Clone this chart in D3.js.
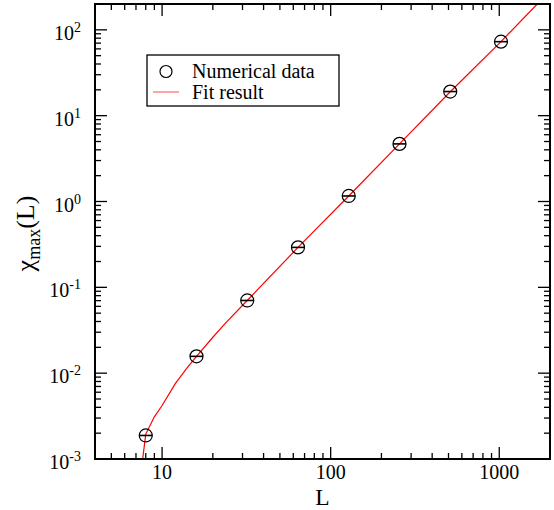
<!DOCTYPE html>
<html><head><meta charset="utf-8">
<script src="https://cdn.jsdelivr.net/npm/d3@7"></script>
<style>body{margin:0;background:#fff}svg{display:block}text{font-family:"Liberation Serif","Times New Roman",serif;fill:#000}</style>
</head><body>
<script>
// Data
const dataL = [8, 16, 32, 64, 128, 256, 512, 1024];
const dataChi = [0.00188, 0.0157, 0.0703, 0.292, 1.16, 4.69, 19.1, 72.8];
const fitL = [7.67, 8, 9, 10, 12, 14, 16, 20, 24, 32, 64, 128, 256, 512, 1024, 1680];
const fitChi = [0.001, 0.00195, 0.0031, 0.0042, 0.0076, 0.0114, 0.0157, 0.0262, 0.039, 0.0703, 0.292, 1.16, 4.7, 19.0, 73.0, 200];
const xMajor = [10, 100, 1000];
const xTickLabels = ["10", "100", "1000"];
const yExponents = [-3, -2, -1, 0, 1, 2];
const legendLabels = ["Numerical data", "Fit result"];

const W = 554, H = 510;
const L = 95, R = 550, T = 4, B = 459;
const svg = d3.select("body").append("svg").attr("width", W).attr("height", H);
const x = d3.scaleLog().domain([4, 2000]).range([L, R]);
const y = d3.scaleLog().domain([1e-3, 200]).range([B, T]);

// minor ticks
const xMinor = [];
[1, 10, 100, 1000].forEach(d => { for (let k = 2; k <= 9; k++) { const v = d * k; if (v > 4 && v < 2000 && v !== 10 && v !== 100 && v !== 1000) xMinor.push(v); } });
const yMajorVals = yExponents.map(e => Math.pow(10, e));
const yMinor = [];
yExponents.forEach(e => { for (let k = 2; k <= 9; k++) { const v = k * Math.pow(10, e); if (v < 200) yMinor.push(v); } });

const g = svg.append("g").attr("stroke", "#000").attr("stroke-width", 1.3);
function tickX(v, len) {
  g.append("line").attr("x1", x(v)).attr("x2", x(v)).attr("y1", B).attr("y2", B - len);
  g.append("line").attr("x1", x(v)).attr("x2", x(v)).attr("y1", T).attr("y2", T + len);
}
function tickY(v, len) {
  g.append("line").attr("y1", y(v)).attr("y2", y(v)).attr("x1", L).attr("x2", L + len);
  g.append("line").attr("y1", y(v)).attr("y2", y(v)).attr("x1", R).attr("x2", R - len);
}
xMajor.forEach(v => tickX(v, 12));
xMinor.forEach(v => tickX(v, 6));
yMajorVals.slice(1).forEach(v => tickY(v, 12));
yMinor.forEach(v => tickY(v, 6));

// tick labels
xMajor.forEach((v, i) => {
  svg.append("text").attr("x", x(v)).attr("y", 479).attr("text-anchor", "middle")
    .attr("font-size", 20).text(xTickLabels[i]);
});
yExponents.forEach(e => {
  const t = svg.append("text").attr("x", 81).attr("y", y(Math.pow(10, e)) + 10)
    .attr("text-anchor", "end").attr("font-size", 20);
  t.append("tspan").text("10");
  t.append("tspan").attr("font-size", 14).attr("dy", -8).text(e < 0 ? "-" + (-e) : String(e));
});

// axis titles
svg.append("text").attr("x", (L + R) / 2).attr("y", 504.5).attr("text-anchor", "middle")
  .attr("font-size", 23.5).text("L");
const yt = svg.append("text").attr("transform", "translate(34," + ((T + B) / 2 + 2) + ") rotate(-90)")
  .attr("text-anchor", "middle").attr("font-size", 26);
yt.append("tspan").text("χ");
yt.append("tspan").attr("font-size", 18).attr("dy", 6).text("max");
yt.append("tspan").attr("dy", -6).text("(L)");

// clip
svg.append("clipPath").attr("id", "clip").append("rect").attr("x", L).attr("y", T).attr("width", R - L).attr("height", B - T);

// fit line
const line = d3.line().x((d, i) => x(fitL[i])).y((d, i) => y(fitChi[i]));
svg.append("path").attr("clip-path", "url(#clip)").datum(fitL).attr("d", line)
  .attr("fill", "none").attr("stroke", "#ff0000").attr("stroke-width", 1.2);

// data points
const pts = svg.append("g").attr("stroke", "#000").attr("fill", "none");
dataL.forEach((l, i) => {
  pts.append("circle").attr("cx", x(l)).attr("cy", y(dataChi[i])).attr("r", 6.5).attr("stroke-width", 1.2);
  pts.append("line").attr("x1", x(l) - 6.5).attr("x2", x(l) + 6.5).attr("y1", y(dataChi[i])).attr("y2", y(dataChi[i])).attr("stroke-width", 1.6);
});

// frame
svg.append("rect").attr("x", L).attr("y", T).attr("width", R - L).attr("height", B - T)
  .attr("fill", "none").attr("stroke", "#000").attr("stroke-width", 2);

// legend
const lg = svg.append("g");
lg.append("rect").attr("x", 147).attr("y", 55).attr("width", 192).attr("height", 51)
  .attr("fill", "#fff").attr("stroke", "#000").attr("stroke-width", 1.3);
lg.append("circle").attr("cx", 166).attr("cy", 71.5).attr("r", 6).attr("fill", "none").attr("stroke", "#000").attr("stroke-width", 1.2);
lg.append("line").attr("x1", 153).attr("x2", 179).attr("y1", 92).attr("y2", 92).attr("stroke", "#ff0000").attr("stroke-width", 1.2).attr("stroke-opacity", 0.6);
lg.append("text").attr("x", 192).attr("y", 78).attr("font-size", 20).text(legendLabels[0]);
lg.append("text").attr("x", 192).attr("y", 99).attr("font-size", 20).text(legendLabels[1]);
</script>
</body></html>
